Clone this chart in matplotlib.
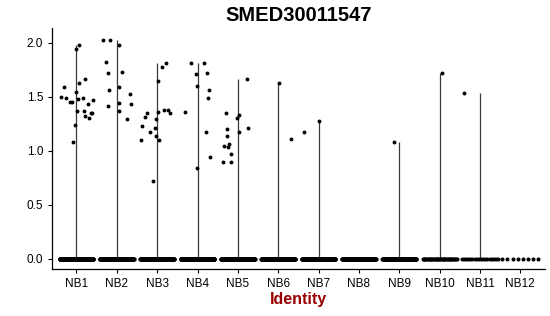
import numpy as np
import matplotlib.pyplot as plt

plt.rcParams["font.family"] = ["Liberation Sans", "DejaVu Sans"]

GENE = "SMED30011547"
groups = ["NB1", "NB2", "NB3", "NB4", "NB5", "NB6",
          "NB7", "NB8", "NB9", "NB10", "NB11", "NB12"]

# expressing cells per group: (jitter offset, value)
nb1 = [(0.07, 1.98), (-0.01, 1.94), (-0.32, 1.59), (-0.39, 1.50), (-0.25, 1.49),
       (-0.15, 1.45), (-0.11, 1.45), (-0.02, 1.54), (0.07, 1.63), (0.20, 1.66),
       (0.16, 1.49), (0.05, 1.48), (0.40, 1.47), (0.29, 1.43), (0.02, 1.37),
       (0.19, 1.37), (0.22, 1.32), (0.31, 1.30), (0.35, 1.35), (0.39, 1.35),
       (-0.04, 1.24), (-0.09, 1.08)]
nb2 = [(-0.33, 2.02), (-0.17, 2.02), (0.05, 1.98), (-0.26, 1.82), (-0.21, 1.72),
       (0.12, 1.73), (-0.19, 1.56), (0.06, 1.59), (0.33, 1.52), (0.36, 1.43),
       (0.05, 1.44), (0.06, 1.37), (-0.23, 1.41), (0.26, 1.29)]
nb3 = [(0.23, 1.81), (0.12, 1.77), (0.03, 1.64), (-0.24, 1.35), (-0.29, 1.31),
       (-0.37, 1.23), (-0.40, 1.10), (-0.18, 1.17), (-0.02, 1.29), (0.02, 1.36),
       (0.17, 1.38), (0.26, 1.38), (0.31, 1.35), (-0.05, 1.21), (-0.02, 1.14),
       (0.05, 1.10), (-0.11, 0.72)]
nb4 = [(-0.16, 1.81), (0.16, 1.81), (-0.04, 1.71), (0.23, 1.72), (-0.01, 1.60),
       (0.28, 1.56), (0.27, 1.49), (-0.32, 1.36), (0.21, 1.17), (0.31, 0.94),
       (-0.01, 0.84)]
nb5 = [(0.23, 1.66), (-0.30, 1.35), (0.02, 1.33), (-0.01, 1.30), (0.26, 1.21),
       (0.04, 1.17), (-0.27, 1.20), (-0.27, 1.14), (-0.21, 1.06), (-0.34, 1.04),
       (-0.24, 1.03), (-0.18, 0.97), (-0.36, 0.90), (-0.16, 0.90)]
nb6 = [(0.01, 1.63), (0.31, 1.11)]
nb7 = [(-0.37, 1.17), (0.01, 1.27)]
nb8 = []
nb9 = [(-0.14, 1.08)]
nb10 = [(0.07, 1.72)]
nb11 = [(-0.39, 1.53)]
nb12 = []
expressing = [nb1, nb2, nb3, nb4, nb5, nb6, nb7, nb8, nb9, nb10, nb11, nb12]

# cells with zero expression per group
zero_counts = [220, 220, 220, 220, 220, 200, 180, 160, 160, 40, 18, 8]

fig, ax = plt.subplots(figsize=(5.5, 3.16), dpi=100)

for i, (pts, nz) in enumerate(zip(expressing, zero_counts)):
    pos = i + 1
    vals = [v for _, v in pts]
    if vals:
        ax.vlines(pos, 0, max(vals), color="#3a3a3a", lw=0.9, zorder=1)
    xs = [pos + dx for dx, _ in pts]
    ax.plot(xs, vals, "o", color="black", ms=2.8, mew=0, zorder=3)
    half = 0.42 if nz > 30 else 0.45
    zx = pos + np.linspace(-half, half, nz)
    ax.plot(zx, np.zeros(nz), "o", color="black", ms=2.9, mew=0, zorder=3)

ax.set_xlim(0.4, 12.6)
ax.set_ylim(-0.09, 2.13)
ax.set_xticks(range(1, len(groups) + 1))
ax.set_xticklabels(groups)
ax.set_yticks([0.0, 0.5, 1.0, 1.5, 2.0])
ax.set_yticklabels(["0.0", "0.5", "1.0", "1.5", "2.0"])
ax.tick_params(labelsize=8.5, length=3, width=0.8, colors="black")
for s in ["top", "right"]:
    ax.spines[s].set_visible(False)
for s in ["left", "bottom"]:
    ax.spines[s].set_linewidth(0.9)

ax.set_title(GENE, fontsize=14.5, fontweight="bold", pad=5)
ax.set_xlabel("Identity", fontsize=11.5, fontweight="bold", color="#990000", labelpad=2)

fig.subplots_adjust(left=0.095, right=0.99, top=0.91, bottom=0.15)
fig.savefig("out.png", dpi=100)
